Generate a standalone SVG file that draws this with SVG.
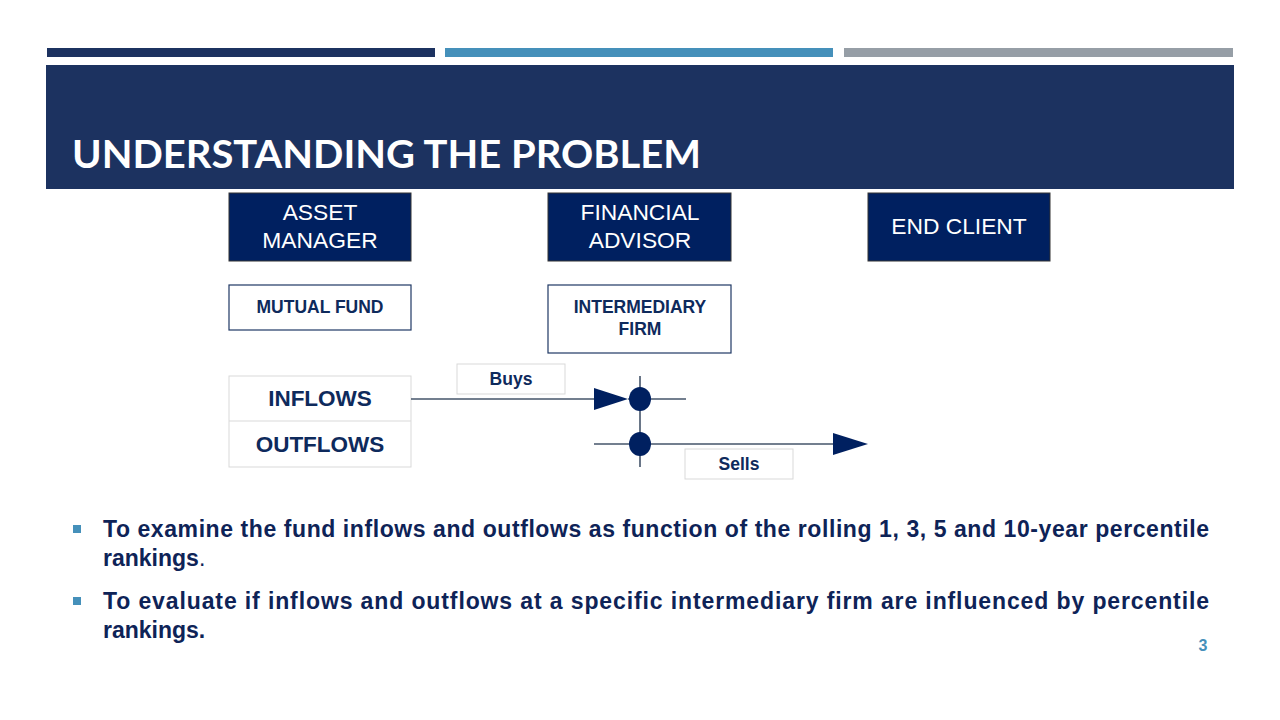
<svg xmlns="http://www.w3.org/2000/svg" width="1280" height="720" viewBox="0 0 1280 720">
<defs>
<style>
.navy{fill:#002060;stroke:#333;stroke-width:1}
.wbox{fill:#fff;stroke:#1F3864;stroke-width:1.2}
.gbox{fill:#fff;stroke:#D9D9D9;stroke-width:1}
.wt{font-family:"Liberation Sans",Arial,sans-serif;font-size:22.8px;fill:#fff;text-anchor:middle}
.bt{font-family:"Liberation Sans",Arial,sans-serif;font-weight:bold;fill:#0E2A5C;text-anchor:middle}
.ln{stroke:#44546A;stroke-width:1.6;fill:none}
.body{font-family:"Liberation Sans Narrow","Liberation Sans",Arial,sans-serif;font-weight:bold;font-size:23px;fill:#0E2357}
</style>
</defs>
<rect width="1280" height="720" fill="#fff"/>
<rect x="47" y="48" width="388" height="9" fill="#1C3260"/>
<rect x="445" y="48" width="388" height="9" fill="#4590BA"/>
<rect x="844" y="48" width="389" height="9" fill="#969EA6"/>
<rect x="46" y="65" width="1188" height="124" fill="#1C3260"/>
<text x="72" y="168" font-family="Lato,'Liberation Sans',sans-serif" font-weight="bold" font-size="38" fill="#fff" textLength="629" lengthAdjust="spacingAndGlyphs">UNDERSTANDING THE PROBLEM</text>

<g id="asset-manager"><rect class="navy" x="229" y="193" width="182" height="68"/><text class="wt" x="320" y="220">ASSET</text><text class="wt" x="320" y="248">MANAGER</text></g>
<g id="financial-advisor"><rect class="navy" x="548" y="193" width="183" height="68"/><text class="wt" x="640" y="220">FINANCIAL</text><text class="wt" x="640" y="248">ADVISOR</text></g>
<g id="end-client"><rect class="navy" x="868" y="193" width="182" height="68"/><text class="wt" x="959" y="234">END CLIENT</text></g>
<g id="mutual-fund"><rect class="wbox" x="229" y="285" width="182" height="45"/><text class="bt" x="320" y="313" font-size="17.5">MUTUAL FUND</text></g>
<g id="intermediary-firm"><rect class="wbox" x="548" y="285" width="183" height="68"/><text class="bt" x="640" y="313" font-size="17.5">INTERMEDIARY</text><text class="bt" x="640" y="335" font-size="17.5">FIRM</text></g>
<g id="flows"><rect class="gbox" x="229" y="376" width="182" height="91"/><line x1="229" y1="421" x2="411" y2="421" stroke="#D9D9D9"/><text class="bt" x="320" y="406" font-size="22.5">INFLOWS</text><text class="bt" x="320" y="452" font-size="22.5">OUTFLOWS</text></g>
<g id="buys"><rect class="gbox" x="457" y="364" width="108" height="30"/><text class="bt" x="511" y="385" font-size="17.5">Buys</text></g>
<g id="sells"><rect class="gbox" x="685" y="449" width="108" height="30"/><text class="bt" x="739" y="470" font-size="17.5">Sells</text></g>

<g id="connectors">
<line class="ln" x1="411" y1="399" x2="594" y2="399"/>
<path d="M594,388 L628,399 L594,410 z" fill="#002060"/>
<line class="ln" x1="628" y1="399" x2="686" y2="399"/>
<line class="ln" x1="640" y1="376" x2="640" y2="467"/>
<line class="ln" x1="594" y1="444" x2="834" y2="444"/>
<path d="M833,433 L868,444 L833,455 z" fill="#002060"/>
<ellipse cx="640" cy="399" rx="11" ry="12" fill="#002060"/>
<ellipse cx="640" cy="444" rx="11" ry="12" fill="#002060"/>
</g>

<rect x="73" y="525" width="8" height="8" fill="#4590BA"/>
<rect x="73" y="597" width="8" height="8" fill="#4590BA"/>
<text class="body" x="103" y="537" textLength="1106" lengthAdjust="spacing">To examine the fund inflows and outflows as function of the rolling 1, 3, 5 and 10-year percentile</text>
<text class="body" x="103" y="566">rankings<tspan font-weight="normal">.</tspan></text>
<text class="body" x="103" y="609" textLength="1106" lengthAdjust="spacing">To evaluate if inflows and outflows at a specific intermediary firm are influenced by percentile</text>
<text class="body" x="103" y="638">rankings.</text>
<text x="1203" y="651" font-family="'Liberation Sans',sans-serif" font-weight="bold" font-size="16" fill="#4590BA" text-anchor="middle">3</text>
</svg>
